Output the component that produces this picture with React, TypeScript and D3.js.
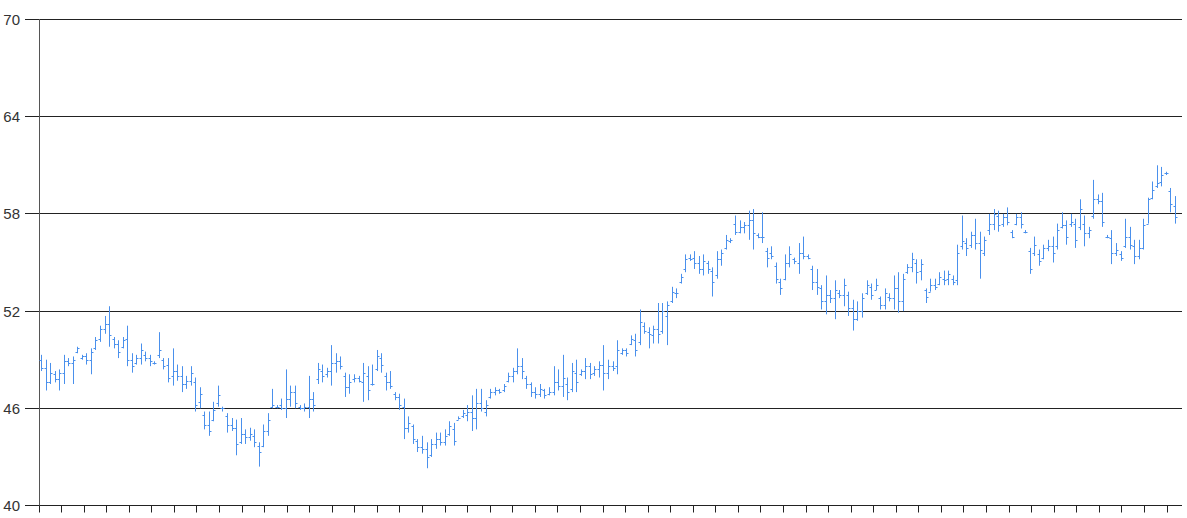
import React from "react";
import * as d3 from "d3";

const yTicks = [40, 46, 52, 58, 64, 70];

const highs = [
49.3,49.0,48.8,48.3,48.4,49.3,49.1,49.2,49.8,49.3,49.4,49.7,50.4,51.1,51.7,52.3,50.4,50.2,50.4,51.1,
49.4,49.3,50.0,49.5,49.3,48.9,50.7,49.1,49.1,49.7,48.7,48.6,48.0,48.6,47.9,47.3,45.8,45.8,46.4,47.4,
46.1,45.7,45.4,45.3,45.4,44.7,44.8,44.7,43.9,45.0,45.7,47.2,46.2,46.6,48.4,47.4,47.4,46.2,46.3,48.0,
47.0,48.8,48.7,48.5,49.9,49.4,49.2,48.2,48.1,48.1,48.0,48.8,48.6,48.7,49.6,49.4,48.2,48.3,47.0,46.9,
46.6,45.5,45.0,44.1,44.3,43.9,44.1,44.5,44.5,44.7,45.2,45.1,45.5,45.9,46.2,46.8,47.2,47.2,46.5,47.2,
47.3,47.2,47.5,48.2,48.5,49.7,49.1,48.0,47.6,47.3,47.5,47.2,47.3,48.6,48.4,49.3,47.9,48.8,49.0,48.4,
49.1,48.8,48.6,48.9,49.9,49.0,48.9,50.2,49.7,49.7,50.5,50.6,52.1,51.3,51.0,51.1,52.5,52.5,52.6,53.5,
53.4,54.3,55.5,55.5,55.7,55.4,55.5,55.1,54.7,55.7,55.8,56.7,56.5,57.9,57.6,57.5,58.2,58.3,56.8,58.1,
55.9,56.0,55.0,54.0,55.5,56.0,55.3,56.2,56.6,55.5,54.8,54.6,53.6,54.2,53.3,53.9,53.3,54.0,53.2,52.7,
52.6,53.1,53.9,53.7,54.0,52.9,53.4,53.1,54.2,54.4,54.3,54.9,55.6,55.2,55.2,53.4,54.0,54.0,54.4,54.5,
54.5,54.2,56.1,57.9,56.5,56.9,57.7,56.9,56.6,58.0,58.3,58.2,58.0,58.4,57.0,58.0,58.1,57.0,55.9,56.6,
55.8,56.1,56.4,56.6,57.4,58.1,57.6,58.0,57.7,58.9,57.9,57.2,60.1,59.2,59.3,56.7,57.0,56.2,55.7,57.7,
57.2,56.4,56.4,57.7,59.0,60.0,61.0,60.9,60.6,59.6,59.1
];

const lows = [
48.3,47.1,47.5,47.6,47.1,47.5,48.6,47.5,49.4,49.0,48.7,48.1,49.6,50.1,50.6,49.8,49.7,49.1,49.7,48.6,
48.2,48.7,48.7,48.9,48.6,48.7,49.1,48.4,47.6,47.4,47.7,47.0,47.2,47.4,45.8,46.0,44.7,44.3,45.2,46.1,
45.8,44.5,44.6,43.1,43.8,43.8,44.0,43.6,42.4,43.6,44.3,46.0,46.0,45.9,45.4,46.1,46.0,45.9,45.8,45.4,
45.8,47.5,47.6,47.9,47.4,48.2,48.4,46.7,46.9,47.6,47.6,46.4,46.5,47.4,48.3,48.2,47.1,47.2,46.5,45.9,
44.1,44.5,43.8,43.3,43.2,42.3,43.0,43.5,43.7,43.7,44.3,43.7,45.3,45.4,45.2,44.6,44.7,45.8,45.5,46.6,
46.8,46.9,47.0,47.6,47.6,48.1,47.8,47.2,46.7,46.6,46.7,46.6,46.8,46.8,47.1,46.7,46.5,47.0,47.0,48.0,
47.8,47.8,48.0,47.9,47.1,47.8,48.3,48.1,49.3,49.2,49.9,49.2,49.9,50.6,49.7,50.0,50.0,50.6,49.9,52.5,
52.8,53.7,54.4,55.1,54.6,54.3,54.2,54.3,52.9,54.0,54.8,55.8,56.2,56.7,56.8,56.8,56.4,55.8,56.5,56.2,
54.7,55.2,53.7,53.0,53.9,54.7,54.9,54.3,55.2,55.2,53.3,53.0,52.1,51.8,52.5,51.5,52.8,52.3,51.7,50.8,
51.4,51.6,53.0,52.7,53.3,52.1,52.1,52.6,52.1,51.9,52.0,54.3,54.4,53.7,53.9,52.5,53.2,53.3,53.6,53.6,
53.6,53.6,53.6,55.8,55.4,55.9,55.8,54.0,55.4,56.7,57.0,56.9,57.2,57.3,56.5,57.3,57.1,56.8,54.3,55.4,
54.8,55.2,55.7,55.0,55.8,57.1,56.1,57.2,55.9,57.0,56.0,56.5,57.7,58.6,57.2,56.5,54.9,55.4,55.1,55.9,
55.8,54.9,55.2,55.8,57.4,58.9,59.6,59.7,60.4,58.1,57.4
];

const opens = [
49.0,48.5,47.6,48.1,47.8,48.2,48.9,48.8,49.5,49.1,49.2,49.0,49.7,50.3,50.9,51.2,50.3,50.0,49.8,50.3,
49.0,48.8,49.1,49.3,49.1,48.8,49.3,49.0,48.7,48.0,48.3,48.0,47.5,47.7,47.6,46.4,45.6,45.0,45.3,46.3,
46.0,45.5,45.0,44.8,43.9,44.4,44.2,44.3,43.7,43.7,44.6,46.1,46.1,46.2,46.0,46.6,47.0,46.1,46.0,46.1,
46.6,47.8,48.3,48.1,48.3,48.8,48.9,48.0,47.3,47.8,47.9,47.6,48.0,47.5,48.4,49.1,48.0,47.6,46.9,46.7,
46.1,44.8,44.9,44.0,43.6,43.5,43.1,43.8,44.1,43.9,44.4,44.7,45.3,45.5,45.6,45.8,45.4,46.3,45.8,46.7,
47.0,47.1,47.1,47.7,48.0,48.3,48.6,47.9,47.5,47.0,46.9,47.1,46.9,47.0,47.6,47.4,47.5,47.2,48.2,48.1,
48.3,48.6,48.2,48.4,48.7,48.2,48.6,48.6,49.4,49.6,50.0,50.2,50.1,51.1,50.7,50.5,50.9,50.8,51.7,52.6,
53.1,53.8,54.6,55.3,55.3,55.0,54.6,55.0,54.5,54.2,55.2,55.9,56.3,57.4,56.9,57.2,57.3,57.6,56.7,56.6,
55.7,55.6,54.8,53.8,54.0,55.0,55.2,55.0,55.6,55.4,54.6,53.8,53.4,52.6,53.0,52.8,53.1,53.0,53.0,52.2,
51.5,52.0,53.1,53.5,53.3,52.8,52.4,52.9,52.8,53.4,52.6,54.4,54.7,55.0,54.5,53.3,53.2,53.6,53.7,54.0,
54.0,54.0,53.9,56.0,56.2,56.1,56.7,56.2,55.6,57.0,57.4,57.9,57.4,57.8,56.9,57.4,57.8,56.9,55.7,55.6,
55.5,55.3,55.9,56.0,56.0,57.2,57.3,57.4,57.4,57.2,57.4,56.8,57.9,58.9,58.8,56.6,56.5,55.6,55.5,56.0,
56.6,56.0,55.4,55.9,57.4,59.0,59.7,60.0,60.5,59.4,58.5
];

const closes = [
48.5,47.6,48.2,47.8,48.2,48.9,48.8,49.0,49.7,49.2,49.0,49.5,50.2,50.9,51.2,50.5,50.0,49.5,50.2,49.0,
48.6,49.1,49.6,49.1,48.9,48.8,49.6,48.6,47.9,48.3,48.0,47.5,47.7,48.2,46.2,46.9,45.0,44.6,45.9,46.8,
46.0,45.0,44.8,43.8,44.4,44.2,44.4,43.9,43.3,44.6,45.3,46.2,46.1,46.0,46.6,47.0,46.3,46.0,46.1,46.6,
46.2,48.4,48.0,48.3,48.8,48.9,48.6,47.3,47.6,47.9,47.7,48.2,47.1,47.5,49.2,48.7,47.6,47.4,46.7,46.2,
44.8,45.1,44.1,43.6,43.5,43.0,43.8,44.1,43.9,44.3,44.9,44.0,45.4,45.7,45.8,45.4,46.3,46.0,46.2,47.0,
47.1,47.0,47.4,48.0,48.3,48.6,48.3,47.5,47.0,46.9,47.2,46.8,47.0,47.6,47.4,47.9,47.0,48.3,47.6,48.3,
48.6,48.1,48.4,48.7,48.2,48.6,48.5,49.6,49.6,49.4,50.3,49.6,51.3,50.8,50.6,50.9,50.6,52.0,52.4,53.2,
53.1,54.1,55.2,55.2,55.0,54.6,55.1,54.6,53.8,55.2,55.6,56.4,56.4,56.9,57.2,57.3,57.6,56.8,56.6,56.6,
55.3,55.4,54.0,53.4,55.0,55.5,55.1,55.6,55.4,55.3,53.8,53.5,52.6,53.0,52.8,53.3,53.0,53.6,52.2,51.5,
52.0,52.8,53.6,53.0,53.6,52.4,53.1,52.8,53.4,52.6,54.0,54.7,55.2,54.4,54.9,52.9,53.6,53.5,54.1,53.9,
54.3,53.8,55.6,56.3,55.9,56.7,56.2,55.8,56.4,57.4,58.0,57.3,57.8,57.5,56.6,57.8,57.4,56.9,54.6,56.1,
55.1,55.9,56.0,55.6,57.0,57.3,56.6,57.5,56.4,58.3,56.8,57.0,58.9,58.8,57.5,56.6,55.6,55.8,55.3,56.6,
56.1,55.4,55.9,57.3,58.9,59.5,59.9,60.4,60.5,58.6,57.8
];

const weekTicks = d3.range(0, 51);

const W = 1187;
const H = 518;
const left = 39;
const top = 19.5;
const bottom = 505.5;
const axisRight = 1182;
const barColor = "#4a90ec";

export default function App() {
  const y = d3.scaleLinear().domain([40, 70]).range([bottom, top]);
  const xBar = d3
    .scaleLinear()
    .domain([0, highs.length - 1])
    .range([41.5, 1175.5]);
  const xTick = d3.scaleLinear().domain([0, 50]).range([39, 1167]);
  const crisp = (v: number) => Math.round(v - 0.5) + 0.5;

  return (
    <svg
      width={W}
      height={H}
      style={{ position: "absolute", left: 0, top: 0, background: "#fff" }}
    >
      {yTicks.map((t) => (
        <g key={t}>
          <line
            x1={25}
            x2={axisRight}
            y1={crisp(y(t))}
            y2={crisp(y(t))}
            stroke="#222"
            strokeWidth={1}
          />
          <text
            x={20}
            y={y(t)}
            dy="0.36em"
            textAnchor="end"
            fontFamily="'Liberation Sans', Arial, sans-serif"
            fontSize={15}
            fill="#333"
          >
            {t}
          </text>
        </g>
      ))}
      <line
        x1={left + 0.5}
        x2={left + 0.5}
        y1={top - 0.5}
        y2={bottom + 0.5}
        stroke="#555"
        strokeWidth={1}
      />
      {weekTicks.map((k) => (
        <line
          key={k}
          x1={crisp(xTick(k))}
          x2={crisp(xTick(k))}
          y1={bottom}
          y2={bottom + 7}
          stroke="#222"
          strokeWidth={1}
        />
      ))}
      <g stroke={barColor} strokeWidth={1} fill="none">
        {highs.map((h, i) => {
          const cx = crisp(xBar(i));
          const yo = Math.round(y(opens[i])) + 0.5;
          const yc = Math.round(y(closes[i])) + 0.5;
          return (
            <g key={i}>
              <line x1={cx} x2={cx} y1={y(h)} y2={y(lows[i])} />
              <line x1={cx - 2} x2={cx} y1={yo} y2={yo} />
              <line x1={cx} x2={cx + 2} y1={yc} y2={yc} />
            </g>
          );
        })}
      </g>
    </svg>
  );
}
